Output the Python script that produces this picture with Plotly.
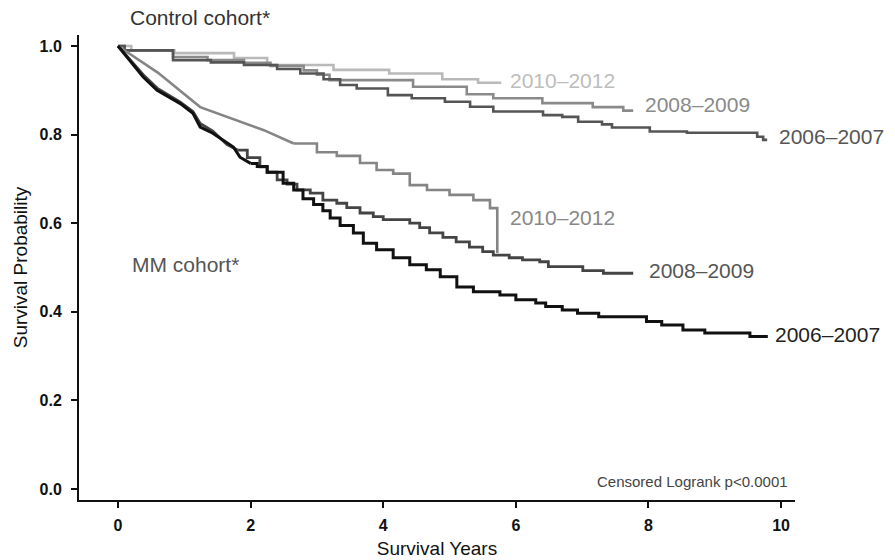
import plotly.graph_objects as go

# ---------------- data ----------------
# Control cohort (step curves)
ctrl_0607_t = [0, 0.1, 0.83, 1.4, 1.9, 2.4, 2.75, 3.1, 3.35, 3.6, 4.07, 4.43, 4.93, 5.31, 5.66,
               6.41, 6.7, 6.94, 7.3, 7.45, 8.02, 8.58, 9.64, 9.73, 9.79]
ctrl_0607_s = [1.0, 0.99, 0.968, 0.963, 0.957, 0.948, 0.938, 0.925, 0.912, 0.904, 0.889, 0.882, 0.874,
               0.863, 0.852, 0.844, 0.840, 0.829, 0.823, 0.816, 0.807, 0.804, 0.795, 0.788, 0.788]

ctrl_0809_t = [0, 0.1, 0.83, 1.35, 1.9, 2.3, 2.8, 3.0, 3.19, 4.45, 5.26, 5.66, 6.4, 7.16, 7.62, 7.77]
ctrl_0809_s = [1.0, 0.99, 0.975, 0.968, 0.962, 0.955, 0.945, 0.935, 0.923, 0.908, 0.891, 0.882,
               0.871, 0.862, 0.854, 0.854]

ctrl_1012_t = [0, 0.2, 0.85, 1.75, 2.25, 3.25, 4.09, 4.89, 5.43, 5.78]
ctrl_1012_s = [1.0, 0.99, 0.984, 0.973, 0.957, 0.946, 0.938, 0.925, 0.917, 0.917]

# MM cohort: dense early part (many events, drawn as a line) + later step part
mm_0607_early_t = [0, 0.38, 0.59, 0.94, 1.13, 1.24, 1.43, 1.74, 1.84, 2.0]
mm_0607_early_s = [1.0, 0.93, 0.90, 0.87, 0.848, 0.817, 0.803, 0.772, 0.749, 0.735]
mm_0607_t = [2.0, 2.1, 2.25, 2.49, 2.65, 2.79, 2.95, 3.09, 3.2, 3.35, 3.55, 3.7, 3.9, 4.15,
             4.4, 4.65, 4.86, 5.11, 5.36, 5.76, 6.0, 6.3, 6.45, 6.7, 6.93, 7.25, 7.97, 8.2, 8.52,
             8.85, 9.53, 9.8]
mm_0607_s = [0.735, 0.728, 0.715, 0.69, 0.675, 0.655, 0.642, 0.628, 0.612,
             0.595, 0.578, 0.555, 0.54, 0.522, 0.506, 0.495, 0.479, 0.456, 0.445, 0.438, 0.427,
             0.42, 0.412, 0.404, 0.397, 0.389, 0.378, 0.37, 0.359, 0.352, 0.344, 0.344]

mm_0809_early_t = [0, 0.38, 0.59, 0.94, 1.13, 1.24, 1.43, 1.64, 1.8]
mm_0809_early_s = [1.0, 0.935, 0.905, 0.873, 0.852, 0.825, 0.808, 0.778, 0.765]
mm_0809_t = [1.8, 1.95, 2.14, 2.25, 2.4, 2.55, 2.7, 2.9, 3.09, 3.3, 3.45, 3.65, 3.85, 4.0, 4.4, 4.55,
             4.7, 4.9, 5.1, 5.3, 5.5, 5.66, 5.9, 6.1, 6.36, 6.49, 7.01, 7.32, 7.77]
mm_0809_s = [0.765, 0.748, 0.727, 0.715, 0.698, 0.688, 0.675, 0.668, 0.652, 0.645,
             0.635, 0.623, 0.615, 0.608, 0.600, 0.59, 0.578, 0.568, 0.558, 0.546, 0.536, 0.528,
             0.522, 0.517, 0.513, 0.502, 0.493, 0.487, 0.487]

mm_1012_early_t = [0, 0.6, 1.24, 1.74, 2.2, 2.65]
mm_1012_early_s = [1.0, 0.94, 0.862, 0.835, 0.81, 0.78]
mm_1012_t = [2.65, 3.0, 3.3, 3.65, 3.9, 4.15, 4.4, 4.66, 5.0, 5.36, 5.61, 5.72]
mm_1012_s = [0.78, 0.76, 0.752, 0.736, 0.72, 0.712, 0.686, 0.675, 0.664, 0.652, 0.634, 0.533]

x_ticks = [0, 2, 4, 6, 8, 10]
y_ticks = [0.0, 0.2, 0.4, 0.6, 0.8, 1.0]
y_tick_labels = ["0.0", "0.2", "0.4", "0.6", "0.8", "1.0"]

FONT = "Arial, Liberation Sans, Helvetica, sans-serif"

series = [
    ("Control 2010–2012", None, None, ctrl_1012_t, ctrl_1012_s, "#b9b9b9", 2.6),
    ("Control 2008–2009", None, None, ctrl_0809_t, ctrl_0809_s, "#8a8a8a", 2.6),
    ("Control 2006–2007", None, None, ctrl_0607_t, ctrl_0607_s, "#555555", 2.6),
    ("MM 2010–2012", mm_1012_early_t, mm_1012_early_s, mm_1012_t, mm_1012_s, "#858585", 2.6),
    ("MM 2008–2009", mm_0809_early_t, mm_0809_early_s, mm_0809_t, mm_0809_s, "#444444", 2.8),
    ("MM 2006–2007", mm_0607_early_t, mm_0607_early_s, mm_0607_t, mm_0607_s, "#111111", 3.0),
]

fig = go.Figure()
for name, et, es, t, s, col, w in series:
    if et is not None:
        fig.add_trace(go.Scatter(x=et, y=es, mode="lines", name=name, legendgroup=name,
                                 line=dict(color=col, width=w, shape="linear"),
                                 showlegend=False))
    fig.add_trace(go.Scatter(x=t, y=s, mode="lines", name=name, legendgroup=name,
                             line=dict(color=col, width=w, shape="hv"),
                             showlegend=False))

labels = [
    ("2010–2012", 5.88, 0.923, "#bdbdbd"),
    ("2008–2009", 7.92, 0.869, "#8a8a8a"),
    ("2006–2007", 9.94, 0.795, "#555555"),
    ("2010–2012", 5.88, 0.612, "#888888"),
    ("2008–2009", 7.98, 0.494, "#555555"),
    ("2006–2007", 9.88, 0.348, "#222222"),
]
for txt, x, y, col in labels:
    fig.add_annotation(x=x, y=y, text=txt, showarrow=False, xanchor="left", yanchor="middle",
                       font=dict(family=FONT, size=21, color=col))

fig.add_annotation(x=0.15, y=1.0366, xref="x", yref="paper", text="Control cohort*",
                   showarrow=False, xanchor="left", yanchor="middle",
                   font=dict(family=FONT, size=21, color="#333333"))
fig.add_annotation(x=0.18, y=0.506, text="MM cohort*", showarrow=False, xanchor="left",
                   yanchor="middle", font=dict(family=FONT, size=21, color="#555555"))
fig.add_annotation(x=10.14, y=0.016, text="Censored Logrank p<0.0001", showarrow=False,
                   xanchor="right", yanchor="middle", font=dict(family=FONT, size=15, color="#444444"))

fig.update_layout(
    width=895, height=560,
    margin=dict(l=79, r=100, t=35, b=60, autoexpand=False),
    paper_bgcolor="white", plot_bgcolor="white",
    font=dict(family=FONT, color="#111111"),
    xaxis=dict(range=[-0.588, 10.21], tickvals=x_ticks, ticks="outside", ticklen=6, tickwidth=2,
               tickcolor="#111", showline=True, linecolor="#111", linewidth=2, showgrid=False,
               zeroline=False, automargin=False, ticklabelstandoff=4,
               tickfont=dict(size=16, color="#111", weight="bold"),
               title=dict(text="Survival Years", font=dict(size=19, color="#111"), standoff=8)),
    yaxis=dict(range=[-0.0248, 1.0248], tickvals=y_ticks, ticktext=y_tick_labels, ticks="outside",
               ticklen=6, tickwidth=2, tickcolor="#111", showline=True, linecolor="#111",
               linewidth=2, showgrid=False, zeroline=False, automargin=False, ticklabelstandoff=6,
               tickfont=dict(size=16, color="#111", weight="bold"),
               title=dict(text="Survival Probability", font=dict(size=19, color="#111"), standoff=7)),
)

fig.write_html("out.html", config={"displayModeBar": False},
               post_script="document.body.style.margin='0';")
